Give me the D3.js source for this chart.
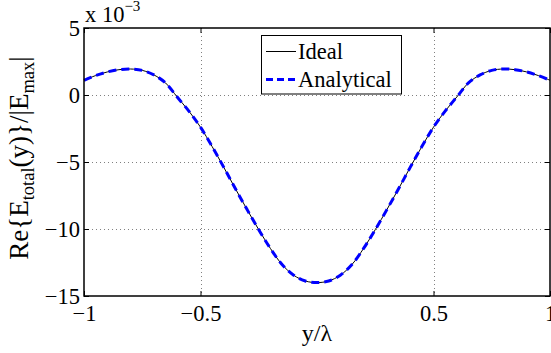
<!DOCTYPE html>
<html>
<head>
<meta charset="utf-8">
<script src="https://cdn.jsdelivr.net/npm/d3@7"></script>
<style>
  html, body { margin: 0; padding: 0; background: #fff; }
  svg { display: block; }
  svg text { font-family: "Liberation Serif", "Times New Roman", serif !important; fill: #000; }
</style>
</head>
<body>
<svg id="chart" width="551" height="353"></svg>
<script>
// Normalised field along the aperture, values in units of 1e-3
const yOverLambda = [
  -1.00, -0.95, -0.90, -0.85, -0.80, -0.75, -0.70, -0.65, -0.60, -0.55,
  -0.50, -0.45, -0.40, -0.35, -0.30, -0.25, -0.20, -0.15, -0.10, -0.05,
   0.00,  0.05,  0.10,  0.15,  0.20,  0.25,  0.30,  0.35,  0.40,  0.45,
   0.50,  0.55,  0.60,  0.65,  0.70,  0.75,  0.80,  0.85,  0.90,  0.95, 1.00
];
const idealValues = [
   1.10,  1.45,  1.72,  1.89,  1.94,  1.84,  1.50,  0.90, -0.15, -1.20,
  -2.40, -3.85, -5.40, -7.00, -8.55, -10.05, -11.45, -12.65, -13.45, -13.88,
  -14.00, -13.88, -13.45, -12.65, -11.45, -10.05, -8.55, -7.00, -5.40, -3.85,
  -2.40, -1.20, -0.15,  0.90,  1.50,  1.84,  1.94,  1.89,  1.72,  1.45, 1.10
];
const analyticalValues = [
   1.10,  1.45,  1.72,  1.89,  1.94,  1.84,  1.50,  0.90, -0.15, -1.20,
  -2.40, -3.85, -5.40, -7.00, -8.55, -10.05, -11.45, -12.65, -13.45, -13.88,
  -14.00, -13.88, -13.45, -12.65, -11.45, -10.05, -8.55, -7.00, -5.40, -3.85,
  -2.40, -1.20, -0.15,  0.90,  1.50,  1.84,  1.94,  1.89,  1.72,  1.45, 1.10
];
const xTicks = [-1, -0.5, 0.5, 1];
const xTickLabels = ["\u22121", "\u22120.5", "0.5", "1"];
const yTicks = [-15, -10, -5, 0, 5];
const yTickLabels = ["\u221215", "\u221210", "\u22125", "0", "5"];
const legendLabels = ["Ideal", "Analytical"];

const serif = '"Liberation Serif", "Times New Roman", serif';
const svg = d3.select("#chart");
const plot = { left: 84, right: 550, top: 28, bottom: 296 };

const x = d3.scaleLinear().domain([-1, 1]).range([plot.left, plot.right]);
const y = d3.scaleLinear().domain([-15, 5]).range([plot.bottom, plot.top]);

const tickFont = 22.5;

// dotted grid
const grid = svg.append("g")
  .attr("stroke", "#808080").attr("stroke-width", 1).attr("stroke-dasharray", "1,3");
[-0.5, 0.5].forEach(v => {
  grid.append("line").attr("x1", Math.round(x(v)) + 0.5).attr("x2", Math.round(x(v)) + 0.5)
    .attr("y1", plot.top).attr("y2", plot.bottom);
});
[-10, -5, 0].forEach(v => {
  grid.append("line").attr("y1", Math.round(y(v)) + 0.5).attr("y2", Math.round(y(v)) + 0.5)
    .attr("x1", plot.left).attr("x2", plot.right);
});

// curves
const pts = s => yOverLambda.map((v, i) => [v, s[i]]);
const line = d3.line().x(d => x(d[0])).y(d => y(d[1])).curve(d3.curveCatmullRom.alpha(0.5));

svg.append("path").datum(pts(idealValues))
  .attr("d", line).attr("fill", "none").attr("stroke", "#000").attr("stroke-width", 1);
svg.append("path").datum(pts(analyticalValues))
  .attr("d", line).attr("fill", "none").attr("stroke", "#0000ff")
  .attr("stroke-width", 3).attr("stroke-dasharray", "8,5");

// axes with inward ticks on all four sides
const tickLen = 5;
const xBottom = d3.axisBottom(x).tickValues(xTicks).tickSize(-tickLen).tickFormat((d, i) => xTickLabels[i]).tickPadding(9);
const xTop = d3.axisTop(x).tickValues(xTicks).tickSize(-tickLen).tickFormat("");
const yLeft = d3.axisLeft(y).tickValues(yTicks).tickSize(-tickLen).tickFormat((d, i) => yTickLabels[i]).tickPadding(4);
const yRight = d3.axisRight(y).tickValues(yTicks).tickSize(-tickLen).tickFormat("");

function styleAxis(g) {
  g.attr("font-family", null).attr("font-size", null);
  g.select(".domain").remove();
  g.selectAll(".tick line").attr("stroke", "#000").attr("stroke-width", 1);
  g.selectAll(".tick text").style("font-size", tickFont + "px").style("font-family", serif);
}
svg.append("g").attr("transform", `translate(0,${plot.bottom})`).call(xBottom).call(styleAxis);
svg.append("g").attr("transform", `translate(0,${plot.top})`).call(xTop).call(styleAxis);
svg.append("g").attr("transform", `translate(${plot.left},0)`).call(yLeft).call(styleAxis);
svg.append("g").attr("transform", `translate(${plot.right},0)`).call(yRight).call(styleAxis);

// frame
svg.append("rect").attr("x", plot.left).attr("y", plot.top)
  .attr("width", plot.right - plot.left).attr("height", plot.bottom - plot.top)
  .attr("fill", "none").attr("stroke", "#000").attr("stroke-width", 1.5);

// exponent note
const expo = svg.append("text").attr("x", 85).attr("y", 22).style("font-size", tickFont + "px");
expo.append("tspan").text("x 10");
expo.append("tspan").style("font-size", "15px").attr("dy", -11).text("\u22123");

// axis labels
svg.append("text").attr("x", (plot.left + plot.right) / 2).attr("y", 341)
  .attr("text-anchor", "middle").style("font-size", "24px").text("y/\u03bb");

const yl = svg.append("text").attr("transform", "translate(28,158) rotate(-90)")
  .attr("text-anchor", "middle").style("font-size", "27px");
yl.append("tspan").text("Re{E");
yl.append("tspan").style("font-size", "18.5px").attr("dy", 6).text("total");
yl.append("tspan").attr("dy", -6).text("(y)}/|E");
yl.append("tspan").style("font-size", "18.5px").attr("dy", 6).text("max");
yl.append("tspan").attr("dy", -6).text("|");

// legend
const lg = svg.append("g");
lg.append("rect").attr("x", 261.5).attr("y", 35.5).attr("width", 140).attr("height", 58.5)
  .attr("fill", "#fff").attr("stroke", "#000").attr("stroke-width", 1);
const rows = [
  { label: legendLabels[0], y: 51.5, stroke: "#000", w: 1, dash: null },
  { label: legendLabels[1], y: 79.5, stroke: "#0000ff", w: 3, dash: "7,4" }
];
rows.forEach(r => {
  lg.append("line").attr("x1", 266).attr("x2", 296).attr("y1", r.y).attr("y2", r.y)
    .attr("stroke", r.stroke).attr("stroke-width", r.w).attr("stroke-dasharray", r.dash);
  lg.append("text").attr("x", 298).attr("y", r.y + 7.5).style("font-size", tickFont + "px").text(r.label);
});
</script>
</body>
</html>
